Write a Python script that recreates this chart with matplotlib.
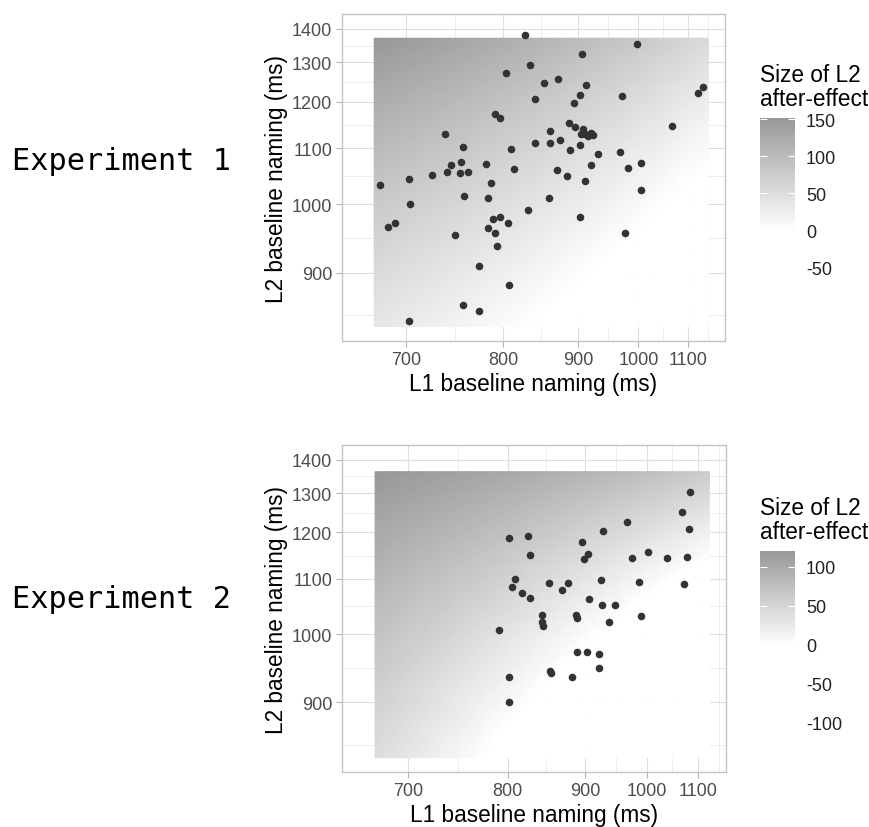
import numpy as np
import matplotlib
matplotlib.use("Agg")
import matplotlib.pyplot as plt
from matplotlib.colors import LinearSegmentedColormap

plt.rcParams["font.family"] = ["Liberation Sans", "DejaVu Sans"]
plt.rcParams["axes.unicode_minus"] = False

W, H = 870, 828

# ---- participants: baseline naming latencies (ms) ----
exp1_l1 = [677, 684, 690, 702, 703, 702, 724, 737, 739, 743, 747, 752, 753, 755, 756,
           761, 755, 773, 773, 780, 783, 786, 783, 788, 791, 793, 791, 796, 796, 806,
           803, 809, 813, 807, 827, 833, 839, 839, 830, 852, 870, 860, 860, 858, 874,
           869, 886, 887, 883, 894, 903, 905, 912, 895, 904, 907, 910, 915, 919, 923,
           903, 910, 919, 931, 903, 971, 967, 981, 975, 1004, 1004, 997, 1067, 1123, 1135]
exp1_l2 = [1032, 964, 970, 1042, 1000, 840, 1050, 1130, 1055, 1069, 952, 1053, 1073, 1102, 1013,
           1055, 859, 909, 852, 1070, 1010, 1036, 963, 977, 955, 937, 1173, 1164, 979, 971,
           1272, 1099, 1061, 884, 1379, 1292, 1207, 1110, 990, 1247, 1257, 1135, 1110, 1010, 1116,
           1059, 1152, 1096, 1048, 1198, 1216, 1323, 1241, 1143, 1128, 1139, 1128, 1124, 1131, 1126,
           1107, 1040, 1069, 1089, 980, 1213, 1092, 1063, 955, 1072, 1024, 1354, 1146, 1222, 1235]

exp2_l1 = [790, 802, 824, 827, 808, 805, 817, 826, 802, 802, 841, 841, 843, 850, 852,
           853, 867, 876, 881, 887, 889, 889, 896, 899, 904, 906, 903, 920, 921, 927,
           924, 926, 936, 946, 965, 973, 986, 989, 1001, 1037, 1067, 1084, 1081, 1077, 1071]
exp2_l2 = [1007, 1187, 1192, 1149, 1100, 1084, 1072, 1063, 934, 900, 1033, 1020, 1014, 1092, 944,
           940, 1078, 1092, 934, 1033, 1028, 972, 1178, 1140, 1151, 1061, 972, 968, 948, 1204,
           1097, 1050, 1021, 1051, 1226, 1142, 1094, 1030, 1156, 1142, 1249, 1302, 1209, 1145, 1089]

# ---- model surface for the after-effect (a + b*u + c*v + d*u*v, u/v = log L1/L2) ----
exp1_grid_l1 = (672, 1148)
exp1_grid_l2 = (834, 1370)
exp1_coef = (36.0, -169.9, 233.7, -22.6)
exp2_grid_l1 = (672, 1126)
exp2_grid_l2 = (832, 1362)
exp2_coef = (40.0, -286.7, 162.3, 345.9)

x_breaks = [700, 800, 900, 1000, 1100]
y_breaks = [900, 1000, 1100, 1200, 1300, 1400]
exp1_fill_breaks = [150, 100, 50, 0, -50]
exp2_fill_breaks = [100, 50, 0, -50, -100]

GREY_HIGH = "#989898"


def recip(v):
    v = np.asarray(v, dtype=float)
    with np.errstate(divide="ignore", invalid="ignore"):
        return -1.0 / v


def expand(lo, hi, mult=0.05):
    tlo, thi = -1.0 / lo, -1.0 / hi
    d = (thi - tlo) * mult
    return -1.0 / (tlo - d), -1.0 / (thi + d)


def minor_breaks(br):
    step = br[1] - br[0]
    ext = [br[0] - step] + list(br) + [br[-1] + step]
    return [2.0 / (1.0 / a + 1.0 / b) for a, b in zip(ext[:-1], ext[1:])]


def surface(r1, r2, coef, n=140):
    g1 = -1.0 / np.linspace(-1.0 / r1[0], -1.0 / r1[1], n)
    g2 = -1.0 / np.linspace(-1.0 / r2[0], -1.0 / r2[1], n)
    L1, L2 = np.meshgrid(g1, g2)
    u = np.log(L1 / r1[0]); v = np.log(L2 / r2[0])
    a, b, c, d = coef
    return L1, L2, a + b * u + c * v + d * u * v


def px_axes(fig, x0, top, w, h):
    return fig.add_axes([x0 / W, 1 - (top + h) / H, w / W, h / H])


fig = plt.figure(figsize=(W / 100, H / 100), dpi=100)

panels = [
    dict(l1=exp1_l1, l2=exp1_l2, r1=exp1_grid_l1, r2=exp1_grid_l2, coef=exp1_coef,
         fb=exp1_fill_breaks, ax=(342, 15, 383, 327), cax=(760, 119, 35, 153),
         name="Experiment 1", ny=161),
    dict(l1=exp2_l1, l2=exp2_l2, r1=exp2_grid_l1, r2=exp2_grid_l2, coef=exp2_coef,
         fb=exp2_fill_breaks, ax=(342, 446, 384, 327), cax=(760, 552, 35, 178),
         name="Experiment 2", ny=600),
]

for p in panels:
    ax = px_axes(fig, *p["ax"])
    ax.set_xscale("function", functions=(recip, recip))
    ax.set_yscale("function", functions=(recip, recip))

    L1, L2, Z = surface(p["r1"], p["r2"], p["coef"])
    vmin, vmax = Z.min(), Z.max()
    z0 = -vmin / (vmax - vmin)
    cmap = LinearSegmentedColormap.from_list("ae", [(0, "white"), (z0, "white"), (1, GREY_HIGH)])
    mesh = ax.pcolormesh(L1, L2, Z, shading="gouraud", cmap=cmap, vmin=vmin, vmax=vmax,
                         rasterized=True, zorder=1)
    ax.scatter(p["l1"], p["l2"], s=30, color="#333333", linewidths=0, zorder=3)

    ax.set_xlim(*expand(*p["r1"]))
    ax.set_ylim(*expand(*p["r2"]))
    ax.set_xticks(x_breaks)
    ax.set_xticklabels([str(b) for b in x_breaks])
    ax.set_yticks(y_breaks)
    ax.set_yticklabels([str(b) for b in y_breaks])
    ax.set_xticks(minor_breaks(x_breaks), minor=True)
    ax.set_yticks(minor_breaks(y_breaks), minor=True)
    ax.xaxis.set_minor_formatter(plt.NullFormatter())
    ax.yaxis.set_minor_formatter(plt.NullFormatter())
    ax.set_axisbelow(True)
    ax.grid(which="major", color="#dedede", lw=0.8, zorder=0)
    ax.grid(which="minor", color="#e6e6e6", lw=0.5, zorder=0)
    ax.tick_params(which="major", length=4, width=0.8, color="#b3b3b3", pad=3,
                   labelsize=13, labelcolor="#4d4d4d")
    ax.tick_params(which="minor", length=0)
    for s in ax.spines.values():
        s.set_color("#c4c4c4"); s.set_linewidth(1.0)
    ax.set_xlabel("L1 baseline naming (ms)", fontsize=16.3, labelpad=3)
    ax.set_ylabel("L2 baseline naming (ms)", fontsize=16.3, labelpad=3)

    cax = px_axes(fig, *p["cax"])
    cb = fig.colorbar(mesh, cax=cax, ticks=p["fb"])
    cb.outline.set_visible(False)
    cb.ax.set_yticklabels([str(b) for b in p["fb"]])
    cax.tick_params(direction="in", length=5, width=0.8, colors="white",
                    labelcolor="#222222", labelsize=13, left=True, right=True, pad=8)
    x0, top = p["cax"][0], p["cax"][1]
    fig.text(x0 / W, 1 - (top - 8) / H, "Size of L2\nafter-effect", ha="left", va="bottom",
             fontsize=16.3, linespacing=1.05)

    fig.text(12 / W, 1 - p["ny"] / H, p["name"], family="DejaVu Sans Mono", fontsize=21.8,
             ha="left", va="center")

fig.savefig("out.png", dpi=100)
